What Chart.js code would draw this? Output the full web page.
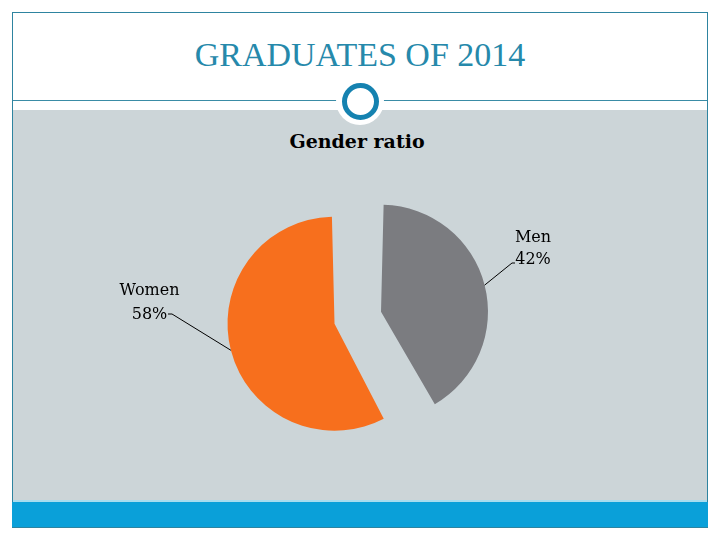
<!DOCTYPE html>
<html>
<head>
<meta charset="utf-8">
<script src="https://cdn.jsdelivr.net/npm/chart.js@4/dist/chart.umd.min.js"></script>
<style>
  html, body { margin: 0; padding: 0; background: #ffffff; }
  #slide { position: relative; width: 720px; height: 540px; overflow: hidden; background: #ffffff; }
  .abs { position: absolute; }
  #frame { left: 12px; top: 12px; width: 694px; height: 514px; border: 1px solid #2e84a0; }
  #panel { left: 13px; top: 110px; width: 694px; height: 391px; background: #ccd5d8; }
  #hl { left: 13px; top: 500px; width: 694px; height: 2px; background: #a8dcee; }
  #band { left: 12px; top: 502px; width: 696px; height: 25px; background: #0aa0d9; }
  #rule { left: 13px; top: 100px; width: 694px; height: 1px; background: #3a8ca6; }
  #disk { left: 336px; top: 77px; width: 48px; height: 48px; border-radius: 50%; background: #ffffff; }
  #ring { left: 341.5px; top: 82.5px; width: 27px; height: 27px; border-radius: 50%; border: 5px solid #1582b0; background: #ffffff; }
  #title { left: 0; top: 36px; width: 720px; text-align: center; font-family: "Liberation Serif", serif; font-size: 34px; line-height: 38px; color: #2689ab; white-space: nowrap; }
  #subtitle { left: 0; top: 130px; width: 714px; text-align: center; font-family: "DejaVu Serif", serif; font-weight: bold; font-size: 19px; line-height: 22px; color: #000000; white-space: nowrap; }
  #chart { left: 0; top: 0; }
</style>
</head>
<body>
<div id="slide">
  <div id="frame" class="abs"></div>
  <div id="panel" class="abs"></div>
  <div id="hl" class="abs"></div>
  <div id="band" class="abs"></div>
  <div id="rule" class="abs"></div>
  <div id="disk" class="abs"></div>
  <div id="ring" class="abs"></div>
  <div id="title" class="abs">GRADUATES OF 2014</div>
  <div id="subtitle" class="abs">Gender ratio</div>
  <canvas id="chart" class="abs" width="720" height="540"></canvas>
</div>
<script>
// ---- data ----
const categories = ['Men', 'Women'];
const shares = [42, 58];
const sliceColors = ['#7b7c80', '#f76f1d'];

// ---- label placement (styles) ----
const labelSpots = [
  { elbow: [512, 263], end: [515, 263], textX: 533, base1: 241.5, base2: 263.5 },
  { elbow: [172, 314], end: [168, 314], textX: 149.5, base1: 294.5, base2: 318.5 }
];

const leaderLabels = {
  id: 'leaderLabels',
  afterDatasetsDraw(chart) {
    const ctx = chart.ctx;
    const meta = chart.getDatasetMeta(0);
    ctx.save();
    meta.data.forEach((el, i) => {
      const p = el.getProps(['x', 'y', 'startAngle', 'endAngle', 'outerRadius', 'circumference'], true);
      const off = (el.options.offset || 0) / 4;
      const h = (p.startAngle + p.endAngle) / 2;
      const cx = p.x + Math.cos(h) * off;
      const cy = p.y + Math.sin(h) * off;
      const fix = 1 - Math.sin(Math.min(Math.PI, p.circumference || 0));
      const r = p.outerRadius + off * fix;
      const sx = cx + Math.cos(h) * r;
      const sy = cy + Math.sin(h) * r;
      const s = labelSpots[i];
      ctx.strokeStyle = '#000000';
      ctx.lineWidth = 1;
      ctx.beginPath();
      ctx.moveTo(sx, sy);
      ctx.lineTo(s.elbow[0], s.elbow[1]);
      ctx.lineTo(s.end[0], s.end[1]);
      ctx.stroke();
      ctx.fillStyle = '#000000';
      ctx.font = '16px "DejaVu Serif", serif';
      ctx.textAlign = 'center';
      ctx.textBaseline = 'alphabetic';
      ctx.fillText(chart.data.labels[i], s.textX, s.base1);
      ctx.fillText(chart.data.datasets[0].data[i] + '%', s.textX, s.base2);
    });
    ctx.restore();
  }
};

new Chart(document.getElementById('chart'), {
  type: 'pie',
  data: {
    labels: categories,
    datasets: [{
      data: shares,
      backgroundColor: sliceColors,
      borderWidth: 0,
      offset: [126.4, 65.6],
      hoverOffset: 0,
      clip: false
    }]
  },
  options: {
    responsive: false,
    devicePixelRatio: 1,
    animation: false,
    events: [],
    radius: 90.6,
    layout: { padding: { left: 0, right: 19.2, top: 110, bottom: 10.8 } },
    plugins: {
      legend: { display: false },
      title: { display: false },
      tooltip: { enabled: false }
    }
  },
  plugins: [leaderLabels]
});
</script>
</body>
</html>
